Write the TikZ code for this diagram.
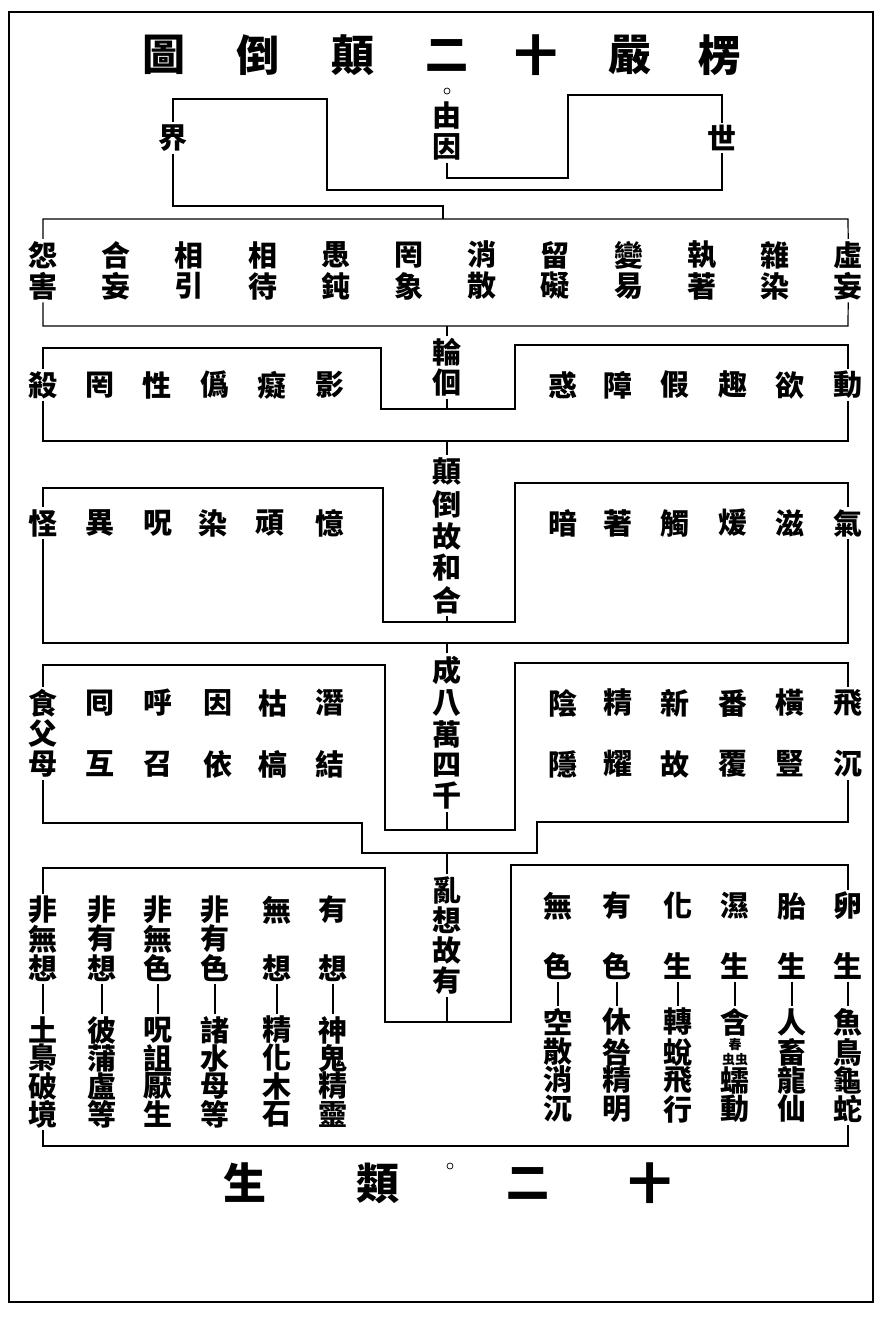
\documentclass[tikz,border=0pt]{standalone}
\usepackage{fontspec}
\setmainfont{Noto Sans CJK TC}
\newcommand{\chunchong}{{\fontsize{13}{13}\selectfont\shortstack{春\\虫虫}}}
\begin{document}
\begin{tikzpicture}[x=1pt,y=-1pt,line width=1.2pt,
		zi/.style={inner sep=0pt,outer sep=2.5pt,font=\fontsize{29}{29}\selectfont\bfseries},
		biaoti/.style={inner sep=0pt,font=\fontsize{43}{43}\selectfont\bfseries},
		quan/.style={circle,draw,line width=0.7pt,inner sep=0pt,minimum size=6pt}]
		\useasboundingbox (0,0) rectangle (882,1318);
		\draw[line width=2.6pt] (9,12) rectangle (873,1302);
		
		\foreach \c/\x [count=\i] in {圖/164,倒/258,顛/353,二/447,十/536,嚴/630,楞/720}
			\node[biaoti] (top\i) at (\x,55) {\c};
		\foreach \c/\x [count=\i] in {生/245,類/378,二/528,十/650}
			\node[biaoti] (bot\i) at (\x,1183) {\c};
		\node[quan] (quan2) at (450,1166) {};
		
		\node[zi] (jie) at (173,138) {界};
		\node[zi] (shi) at (722,138) {世};
		\node[zi] (you) at (447,116) {由};
		\node[zi] (yin) at (447,147) {因};
		\node[quan] (quan1) at (447,91) {};
		\coordinate (j0) at (443,219);
		\draw (jie.north) -- (173,99) -- (327,99) -- (327,190) -- (722,190) -- (shi.south);
		\draw (shi.north) -- (722,95) -- (568,95) -- (568,178) -- (447,178) -- (yin.south);
		\draw (jie.south) -- (173,206) -- (443,206) -- (j0);
		
		\foreach \a/\b [count=\i] in {怨/害,合/妄,相/引,相/待,愚/鈍,罔/象,消/散,留/礙,變/易,執/著,雜/染,虛/妄}{
			\node[zi] (ka\i) at ({43+73.2*(\i-1)},255) {\a};
			\node[zi] (kb\i) at ({43+73.2*(\i-1)},286) {\b};
		}
		\coordinate (j1) at (447,326);
		\draw (ka1.north) -- (43,219) -- (848,219) -- (ka12.north);
		\draw (kb1.south) -- (43,326) -- (848,326) -- (kb12.south);
		
		\node[zi] (lun) at (447,352) {輪};
		\node[zi] (hui) at (447,383) {佪};
		\foreach \c/\x [count=\i] in {殺/43,罔/100,性/157,僞/215,癡/272,影/330,惑/563,障/618,假/675,趣/733,欲/790,動/848}
			\node[zi] (la\i) at (\x,385) {\c};
		\coordinate (j2) at (447,409);
		\coordinate (j3) at (447,441);
		\draw (j1) -- (lun.north);
		\draw (la1.north) -- (43,348) -- (381,348) -- (381,409) -- (515,409) -- (515,345) -- (848,345) -- (la12.north);
		\draw (hui.south) -- (j2);
		\draw (la1.south) -- (43,441) -- (848,441) -- (la12.south);
		
		\foreach \c/\y [count=\i] in {顛/471,倒/504,故/536,和/568,合/600}
			\node[zi] (ma\i) at (447,\y) {\c};
		\foreach \c/\x [count=\i] in {怪/43,異/100,呪/158,染/213,頑/270,憶/330,暗/563,著/618,觸/675,煖/733,滋/790,氣/848}
			\node[zi] (mb\i) at (\x,523) {\c};
		\coordinate (j4) at (447,622);
		\coordinate (j5) at (447,643);
		\draw (j3) -- (ma1.north);
		\draw (mb1.north) -- (43,488) -- (383,488) -- (383,622) -- (515,622) -- (515,483) -- (848,483) -- (mb12.north);
		\draw (ma5.south) -- (j4);
		\draw (mb1.south) -- (43,643) -- (848,643) -- (mb12.south);
		
		\foreach \c/\y [count=\i] in {成/670,八/703,萬/734,四/765,千/796}
			\node[zi] (na\i) at (447,\y) {\c};
		\foreach \a/\b/\x [count=\i] in {食/母/43,囘/互/100,呼/召/158,因/依/218,枯/槁/273,潛/結/330,陰/隱/563,精/耀/618,新/故/675,番/覆/733,橫/豎/790,飛/沉/848}{
			\node[zi] (oa\i) at (\x,703) {\a};
			\node[zi] (ob\i) at (\x,764) {\b};
		}
		\node[zi] (fu) at (43,733) {父};
		\coordinate (j6) at (447,830);
		\coordinate (j7) at (447,853);
		\draw (j5) -- (na1.north);
		\draw (oa1.north) -- (43,665) -- (385,665) -- (385,830) -- (515,830) -- (515,663) -- (848,663) -- (oa12.north);
		\draw (na5.south) -- (j6);
		\draw (ob1.south) -- (43,823) -- (362,823) -- (362,853) -- (537,853) -- (537,822) -- (848,822) -- (ob12.south);
		
		\foreach \c/\y [count=\i] in {亂/890,想/920,故/950,有/981}
			\node[zi] (pa\i) at (447,\y) {\c};
		\foreach \x/\a/\c/\d/\e/\f/\g [count=\i] in {43/非/想/土/梟/破/境,102/非/想/彼/蒲/盧/等,158/非/色/呪/詛/厭/生,215/非/色/諸/水/母/等,277/無/想/精/化/木/石,333/有/想/神/鬼/精/靈}{
			\node[zi] (qa\i) at (\x,910) {\a};
			\node[zi] (qc\i) at (\x,968) {\c};
			\node[zi] (qd\i) at (\x,1030) {\d};
			\node[zi] (qe\i) at (\x,1058) {\e};
			\node[zi] (qf\i) at (\x,1086) {\f};
			\node[zi] (qg\i) at (\x,1114) {\g};
			\draw (qc\i.south) -- (qd\i.north);
		}
		\foreach \b/\x [count=\i] in {無/43,有/102,無/158,有/215}
			\node[zi] (qb\i) at (\x,939) {\b};
		\foreach \x/\a/\c/\d/\e/\f/\g [count=\i] in {558/無/色/空/散/消/沉,617/有/色/休/咎/精/明,678/化/生/轉/蛻/飛/行,735/濕/生/含/\chunchong/蠕/動,792/胎/生/人/畜/龍/仙,848/卵/生/魚/鳥/龜/蛇}{
			\node[zi] (ra\i) at (\x,906) {\a};
			\node[zi] (rc\i) at (\x,966) {\c};
			\node[zi] (rd\i) at (\x,1022) {\d};
			\node[zi] (re\i) at (\x,1052) {\e};
			\node[zi] (rf\i) at (\x,1080) {\f};
			\node[zi] (rg\i) at (\x,1109) {\g};
			\draw (rc\i.south) -- (rd\i.north);
		}
		\coordinate (j8) at (447,1022);
		\draw (j7) -- (pa1.north);
		\draw (qa1.north) -- (43,868) -- (385,868) -- (385,1022) -- (511,1022) -- (511,865) -- (848,865) -- (ra6.north);
		\draw (pa4.south) -- (j8);
		\draw (qg1.south) -- (43,1146) -- (848,1146) -- (rg6.south);
\end{tikzpicture}
\end{document}
